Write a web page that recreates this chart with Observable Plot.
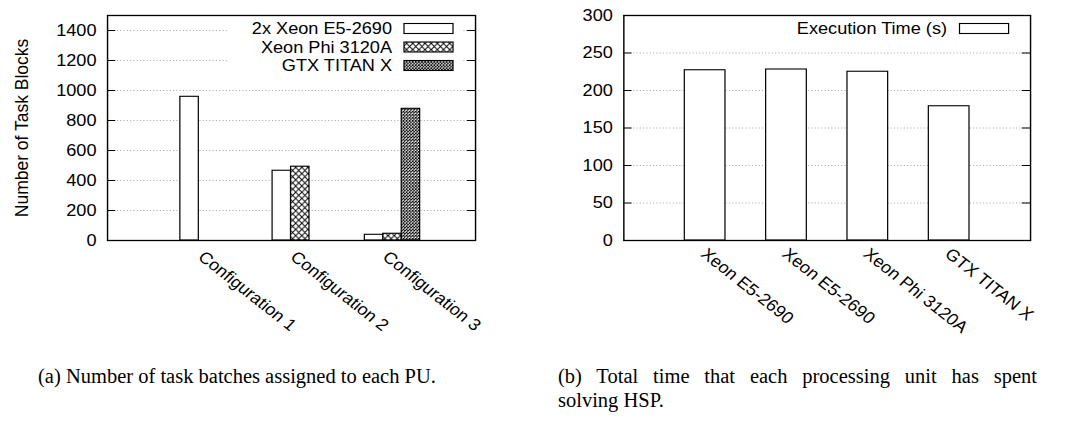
<!DOCTYPE html>
<html><head><meta charset="utf-8">
<script src="https://cdn.jsdelivr.net/npm/d3@7"></script>
<script src="https://cdn.jsdelivr.net/npm/@observablehq/plot@0.6"></script>
<style>
body{margin:0;background:#fff;width:1075px;height:422px;position:relative;overflow:hidden;font-family:"Liberation Sans",Arial,sans-serif}
#a,#b{position:absolute;top:0}
#a{left:0}#b{left:540px}
.cap{position:absolute;font-family:"Liberation Serif","Times New Roman",serif;font-size:20.5px;color:#000;white-space:nowrap;line-height:24px}
</style></head><body>
<div id="a"></div><div id="b"></div>
<div class="cap" id="capA" style="left:38px;top:364px">(a) Number of task batches assigned to each PU.</div>
<div class="cap" id="capB1" style="left:558px;top:364px;width:479px;white-space:normal;text-align:justify;text-align-last:justify">(b) Total time that each processing unit has spent</div>
<div class="cap" id="capB2" style="left:558px;top:388px">solving HSP.</div>
<script>
// ---- data ----
const configs = ["Configuration 1", "Configuration 2", "Configuration 3"];
const units = ["2x Xeon E5-2690", "Xeon Phi 3120A", "GTX TITAN X"];
const xeonE5 = [958, 465, 38];
const xeonPhi = [0, 492, 45];
const gtxTitan = [0, 0, 878];
const blockTicks = [0, 200, 400, 600, 800, 1000, 1200, 1400];

const puNames = ["Xeon E5-2690", "Xeon E5-2690", "Xeon Phi 3120A", "GTX TITAN X"];
const execTime = [227, 228, 225, 179];
const timeTicks = [0, 50, 100, 150, 200, 250, 300];
const timeLegend = "Execution Time (s)";

// ---- layout ----
const S = 1.1;        // horizontal stretch
const H = 360;
const FS = 16.5;
const ROT = 41;
const font = {fontFamily: "'Liberation Sans', Arial, sans-serif", fontSize: FS + "px", background: "transparent", color: "black"};

function stretch(svg, physW) {
  svg.setAttribute("width", physW);
  svg.setAttribute("height", H);
  svg.setAttribute("preserveAspectRatio", "none");
  svg.style.width = physW + "px";
  svg.style.height = H + "px";
  svg.style.maxWidth = "none";
  svg.style.overflow = "visible";
}

// ---- chart (a) ----
{
  const physW = 540;
  const W = physW / S;
  const mL = 107 / S, mR = (physW - 475) / S, mT = 15, mB = H - 240;
  const innerW = W - mL - mR;
  const series = [xeonE5, xeonPhi, gtxTitan];
  const fills = ["white", "url(#hatchPhi)", "url(#hatchGtx)"];
  const rows = [];
  configs.forEach((c, i) => series.forEach((arr, j) => rows.push({i, j, v: arr[i]})));
  const bw = 0.2;
  const svg = Plot.plot({
    width: W, height: H, marginLeft: mL, marginRight: mR, marginTop: mT, marginBottom: mB,
    style: font,
    x: {domain: [-1.09, 2.9], axis: null},
    y: {domain: [0, 1500]},
    marks: [
      Plot.gridY(blockTicks.filter(t => t > 0), {stroke: "#999", strokeOpacity: 1, strokeDasharray: "1,2", strokeWidth: 0.8}),
      ...[0, 1, 2].map(j => Plot.rectY(rows.filter(r => r.j === j && r.v > 0), {
        x1: r => r.i + (r.j - 1) * bw - bw / 2,
        x2: r => r.i + (r.j - 1) * bw + bw / 2,
        y1: 0, y2: "v",
        fill: fills[j], stroke: "black", strokeWidth: 1.1
      })),
      Plot.tickY(blockTicks, {y: d => d, insetRight: innerW - 7.5, stroke: "black"}),
      Plot.tickY(blockTicks, {y: d => d, insetLeft: innerW - 7.5, stroke: "black"}),
      Plot.axisY(blockTicks, {tickSize: 0, tickPadding: 10, tickFormat: d => String(d), label: null, fontSize: FS}),
      Plot.text(configs, {x: (d, i) => i, frameAnchor: "bottom", rotate: ROT, textAnchor: "start", dx: -10, dy: 18, fontSize: FS}),
      Plot.frame({stroke: "black", strokeWidth: 1.3})
    ]
  });
  stretch(svg, physW);
  const s = d3.select(svg);
  const defs = s.insert("defs", ":first-child");
  const p1 = defs.append("pattern").attr("id", "hatchPhi").attr("patternUnits", "userSpaceOnUse").attr("width", 5.6).attr("height", 6.2);
  p1.append("rect").attr("width", 5.6).attr("height", 6.2).attr("fill", "white");
  p1.append("path").attr("d", "M0,0L5.6,6.2M5.6,0L0,6.2").attr("stroke", "black").attr("stroke-width", 0.9);
  const p2 = defs.append("pattern").attr("id", "hatchGtx").attr("patternUnits", "userSpaceOnUse").attr("width", 2.8).attr("height", 3.1);
  p2.append("rect").attr("width", 2.8).attr("height", 3.1).attr("fill", "white");
  p2.append("path").attr("d", "M0,0L2.8,3.1M2.8,0L0,3.1").attr("stroke", "black").attr("stroke-width", 0.8);
  // y title
  s.append("text").attr("transform", `translate(${21 / S},128) rotate(-90)`).attr("text-anchor", "middle")
    .attr("dominant-baseline", "central").attr("font-size", 17.5).text("Number of Task Blocks");
  // legend
  const lg = s.append("g");
  lg.append("rect").attr("x", 227 / S).attr("y", 17).attr("width", (463 - 227) / S).attr("height", 57).attr("fill", "white");
  const rowY = [28.5, 47, 65.5];
  units.forEach((u, j) => {
    lg.append("text").attr("x", 392 / S).attr("y", rowY[j]).attr("text-anchor", "end").attr("dominant-baseline", "central").attr("font-size", FS).text(u);
    lg.append("rect").attr("x", 404 / S).attr("y", rowY[j] - 5).attr("width", (453 - 404) / S).attr("height", 10)
      .attr("fill", fills[j]).attr("stroke", "black").attr("stroke-width", 1.1);
  });
  document.getElementById("a").appendChild(svg);
}

// ---- chart (b) ----
{
  const physW = 535;
  const W = physW / S;
  const mL = (623.3 - 540) / S, mR = (1075 - 1030) / S, mT = 15, mB = H - 240;
  const innerW = W - mL - mR;
  const rows = execTime.map((v, i) => ({i, v, name: puNames[i]}));
  const svg = Plot.plot({
    width: W, height: H, marginLeft: mL, marginRight: mR, marginTop: mT, marginBottom: mB,
    style: font,
    x: {domain: [-1, 4], axis: null},
    y: {domain: [0, 300]},
    marks: [
      Plot.gridY(timeTicks.filter(t => t > 0), {stroke: "#999", strokeOpacity: 1, strokeDasharray: "1,2", strokeWidth: 0.8}),
      Plot.rectY(rows, {x1: r => r.i - 0.25, x2: r => r.i + 0.25, y1: 0, y2: "v", fill: "white", stroke: "black", strokeWidth: 1.1}),
      Plot.tickY(timeTicks, {y: d => d, insetRight: innerW - 7.5, stroke: "black"}),
      Plot.tickY(timeTicks, {y: d => d, insetLeft: innerW - 7.5, stroke: "black"}),
      Plot.axisY(timeTicks, {tickSize: 0, tickPadding: 10, tickFormat: d => String(d), label: null, fontSize: FS}),
      Plot.text(rows, {x: "i", text: "name", frameAnchor: "bottom", rotate: ROT, textAnchor: "start", dx: -5, dy: 15, fontSize: FS}),
      Plot.frame({stroke: "black", strokeWidth: 1.3})
    ]
  });
  stretch(svg, physW);
  const s = d3.select(svg);
  const lg = s.append("g");
  lg.append("text").attr("x", (947 - 540) / S).attr("y", 28.5).attr("text-anchor", "end").attr("dominant-baseline", "central").attr("font-size", FS).text(timeLegend);
  lg.append("rect").attr("x", (959.5 - 540) / S).attr("y", 23.5).attr("width", (1008.6 - 959.5) / S).attr("height", 10)
    .attr("fill", "white").attr("stroke", "black").attr("stroke-width", 1.1);
  document.getElementById("b").appendChild(svg);
}
</script>
</body></html>
